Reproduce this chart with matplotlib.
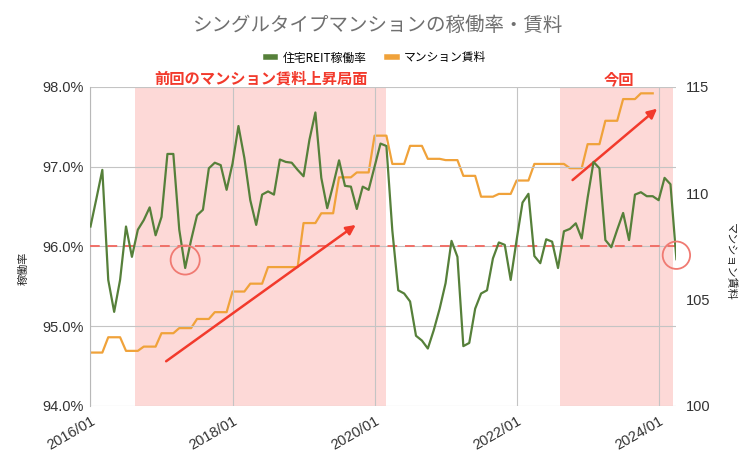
import numpy as np
import matplotlib
matplotlib.use('Agg')
import matplotlib.pyplot as plt
from matplotlib.lines import Line2D

plt.rcParams['font.family'] = ['Noto Sans CJK JP', 'DejaVu Sans']

# monthly data, 2016/01 - 2024/04
occupancy = [
    96.25, 96.60, 96.96, 95.58, 95.18, 95.58, 96.25, 95.87, 96.21, 96.33, 96.49, 96.14,  # 2016
    96.37, 97.16, 97.16, 96.21, 95.73, 96.08, 96.39, 96.46, 96.98, 97.05, 97.02, 96.71,  # 2017
    97.04, 97.51, 97.11, 96.58, 96.27, 96.65, 96.69, 96.65, 97.09, 97.06, 97.05, 96.96,  # 2018
    96.88, 97.34, 97.68, 96.86, 96.48, 96.77, 97.08, 96.76, 96.75, 96.47, 96.75, 96.71,  # 2019
    97.00, 97.29, 97.26, 96.20, 95.45, 95.41, 95.31, 94.88, 94.82, 94.72, 94.95, 95.22,  # 2020
    95.54, 96.07, 95.87, 94.75, 94.79, 95.22, 95.41, 95.45, 95.85, 96.05, 96.02, 95.58,  # 2021
    96.08, 96.55, 96.66, 95.88, 95.79, 96.09, 96.06, 95.73, 96.19, 96.22, 96.29, 96.10,  # 2022
    96.61, 97.06, 96.98, 96.08, 95.99, 96.21, 96.42, 96.08, 96.65, 96.68, 96.63, 96.63,  # 2023
    96.58, 96.86, 96.78, 95.84,                                                          # 2024
]

rent = [
    102.51, 102.51, 102.51, 103.23, 103.23, 103.23, 102.59, 102.59, 102.59, 102.79, 102.79, 102.79,
    103.42, 103.42, 103.42, 103.66, 103.66, 103.66, 104.09, 104.09, 104.09, 104.41, 104.41, 104.41,
    105.38, 105.38, 105.38, 105.75, 105.75, 105.75, 106.53, 106.53, 106.53, 106.53, 106.53, 106.53,
    108.60, 108.60, 108.60, 109.06, 109.06, 109.06, 110.75, 110.75, 110.75, 110.98, 110.98, 110.98,
    112.71, 112.71, 112.71, 111.38, 111.38, 111.38, 112.23, 112.23, 112.23, 111.62, 111.62, 111.62,
    111.56, 111.56, 111.56, 110.82, 110.82, 110.82, 109.84, 109.84, 109.84, 109.97, 109.97, 109.97,
    110.60, 110.60, 110.60, 111.38, 111.38, 111.38, 111.38, 111.38, 111.38, 111.18, 111.18, 111.18,
    112.31, 112.31, 112.31, 113.41, 113.41, 113.41, 114.43, 114.43, 114.43, 114.70, 114.70, 114.70,
]

tick_pos = [0, 24, 48, 72, 96]
tick_labels = ['2016/01', '2018/01', '2020/01', '2022/01', '2024/01']

green = '#56803a'
orange = '#f0a23a'
red = '#f23a2c'

x_occ = np.arange(len(occupancy))
x_rent = np.arange(len(rent))

fig = plt.figure(figsize=(7.56, 4.65), dpi=100)
ax = fig.add_axes([0.1197, 0.127, 0.775, 0.686])
ax2 = ax.twinx()

# draw ax (green line etc.) above ax2 (orange)
ax.set_zorder(ax2.get_zorder() + 1)
ax.patch.set_visible(False)
ax2.patch.set_visible(True)
ax2.patch.set_facecolor('white')

# shaded periods
ax2.axvspan(7.5, 50.0, color='#fdd9d7', lw=0, zorder=0)
ax2.axvspan(79.4, 98.4, color='#fdd9d7', lw=0, zorder=0)

ax2.plot(x_rent, rent, color=orange, lw=1.6, zorder=3)
ax.plot(x_occ, occupancy, color=green, lw=1.6, zorder=4)

ax.axhline(96.0, color='#f07068', ls=(0, (5, 4)), lw=1.4, zorder=3)

# circles
ax.scatter([16], [95.83], s=440, facecolors='none', edgecolors='#f07a72', lw=1.3, zorder=5)
ax.scatter([99], [95.89], s=390, facecolors='none', edgecolors='#f07a72', lw=1.3, zorder=5,
           clip_on=False)

# arrows
ax.annotate('', xy=(45.2, 96.29), xytext=(12.4, 94.54),
            arrowprops=dict(arrowstyle='-|>', color=red, lw=1.8, mutation_scale=14))
ax.annotate('', xy=(96.1, 97.75), xytext=(81.1, 96.81),
            arrowprops=dict(arrowstyle='-|>', color=red, lw=1.8, mutation_scale=14))

ax.set_xlim(0, 99)
ax.set_ylim(94, 98)
ax2.set_ylim(100, 115)
ax.set_yticks([94, 95, 96, 97, 98])
ax.set_yticklabels(['94.0%', '95.0%', '96.0%', '97.0%', '98.0%'])
ax2.set_yticks([100, 105, 110, 115])
ax.set_xticks(tick_pos)
ax.set_xticklabels(tick_labels, rotation=30, ha='right', rotation_mode='anchor')

ax.grid(True, color='#c4c4c4', lw=0.8)
ax.set_axisbelow(True)

for a in (ax, ax2):
    for s in ['top', 'right', 'bottom']:
        a.spines[s].set_visible(False)
ax2.spines['left'].set_visible(False)
ax.spines['left'].set_color('#b8b8b8')

ax.tick_params(axis='both', length=0, labelsize=10.5, colors='#333333')
ax.tick_params(axis='y', pad=5)
ax.tick_params(axis='x', pad=6)
ax2.tick_params(axis='y', length=0, labelsize=10.5, colors='#333333', pad=7)
for lab in ax.get_xticklabels() + ax.get_yticklabels() + ax2.get_yticklabels():
    lab.set_family(['Liberation Sans', 'DejaVu Sans'])

# texts
fig.text(0.5, 1 - 25 / 465, 'シングルタイプマンションの稼働率・賃料', ha='center', va='center',
         fontsize=14, color='#707070')
fig.text(261 / 756, 1 - 79 / 465, '前回のマンション賃料上昇局面', ha='center', va='center',
         fontsize=11, color=red, fontweight='bold')
fig.text(619 / 756, 1 - 79 / 465, '今回', ha='center', va='center',
         fontsize=11, color=red, fontweight='bold')
fig.text(23 / 756, 1 - 268 / 465, '稼働率', ha='center', va='center', rotation=90,
         fontsize=8, color='#222222')
fig.text(730 / 756, 1 - 262 / 465, 'マンション賃料', ha='center', va='center', rotation=-90,
         fontsize=8, color='#222222')

handles = [Line2D([], [], color=green, lw=4), Line2D([], [], color=orange, lw=4)]
fig.legend(handles, ['住宅REIT稼働率', 'マンション賃料'], loc='center', ncol=2,
           bbox_to_anchor=(376 / 756, 1 - 58 / 465), frameon=False, fontsize=8.5,
           handlelength=0.8, handletextpad=0.6, columnspacing=1.8)

plt.savefig('out.png', dpi=100)
